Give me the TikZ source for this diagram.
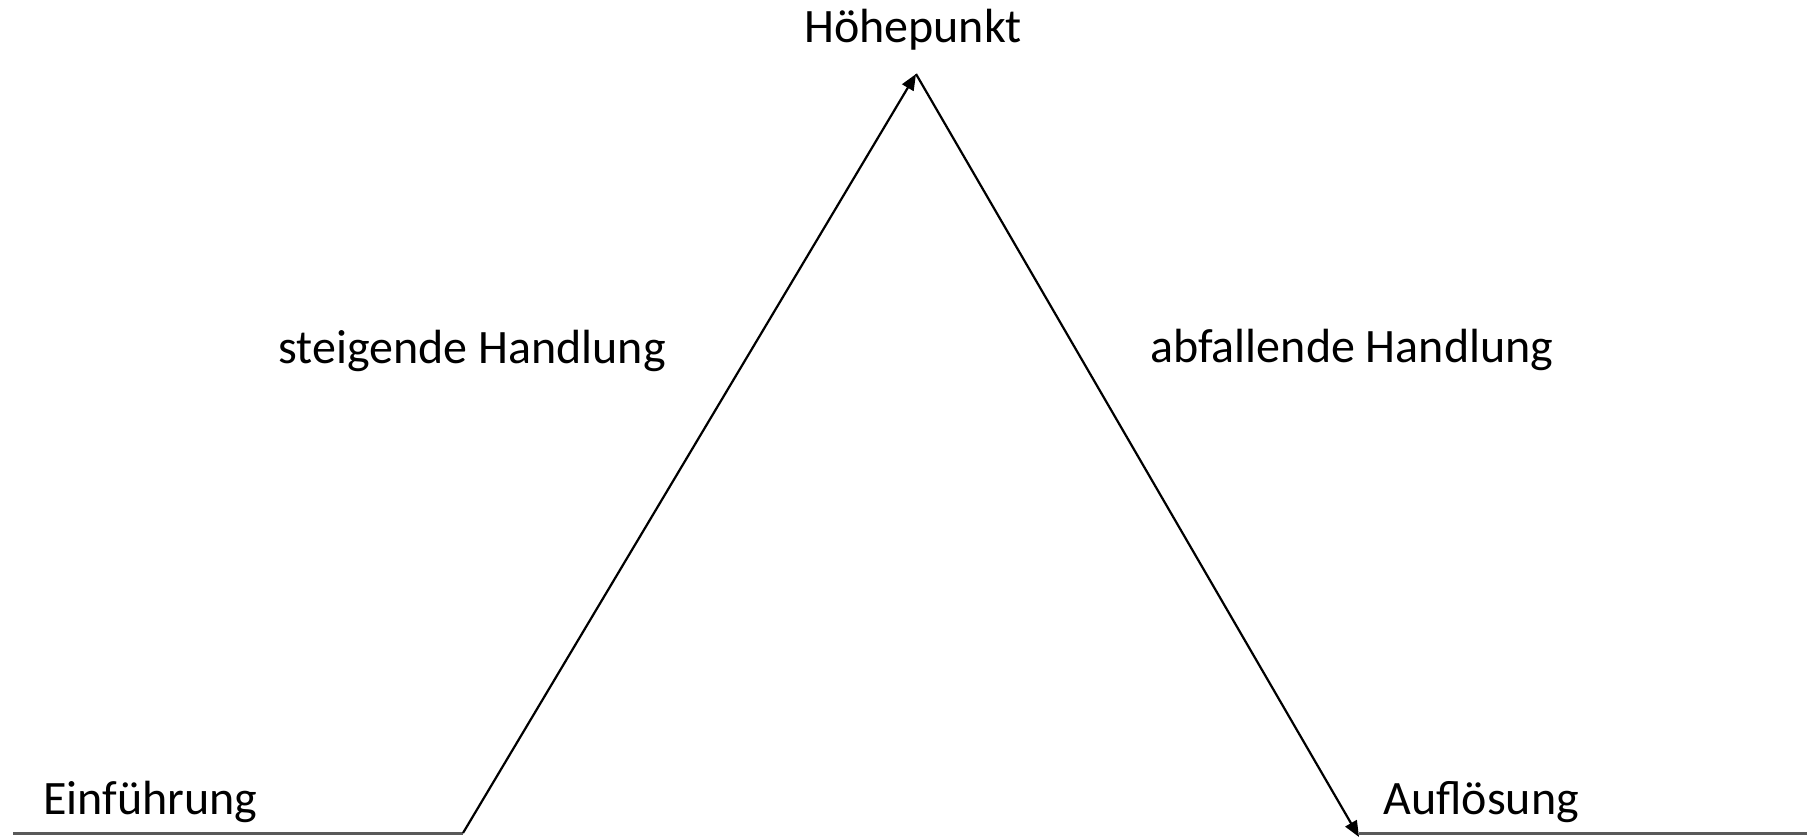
\documentclass[tikz,border=0pt]{standalone}
\usepackage{fontspec}
\setmainfont{Carlito}
\usetikzlibrary{arrows.meta}
\begin{document}
\begin{tikzpicture}[x=0.5pt,y=-0.5pt,
  lbl/.style={inner sep=0pt,font=\fontsize{24}{29}\selectfont},
  flat/.style={draw=black!65,line width=1.5pt},
  slope/.style={draw=black,line width=1.1pt,-{Triangle[length=8pt,width=6.5pt]}}]
\useasboundingbox (0,0) rectangle (1807,839);
\coordinate (L0) at (13,833);
\coordinate (L1) at (463,833);
\coordinate (P) at (916,74);
\coordinate (R1) at (1359,837);
\coordinate (R2) at (1807,833);
\node[lbl,anchor=base] (hp) at (913,43) {Höhepunkt};
\node[lbl,anchor=base west] (ein) at (43,814) {Einführung};
\node[lbl,anchor=base west] (auf) at (1383,814) {Auflösung};
\node[lbl,anchor=base west] (st) at (278,364) {steigende Handlung};
\node[lbl,anchor=base west] (ab) at (1150,362) {abfallende Handlung};
\draw[flat] (L0) -- (L1);
\draw[slope] (L1) -- (P);
\draw[slope] (P) -- (R1);
\draw[flat] (R1 |- R2) -- (R2);
\end{tikzpicture}
\end{document}
